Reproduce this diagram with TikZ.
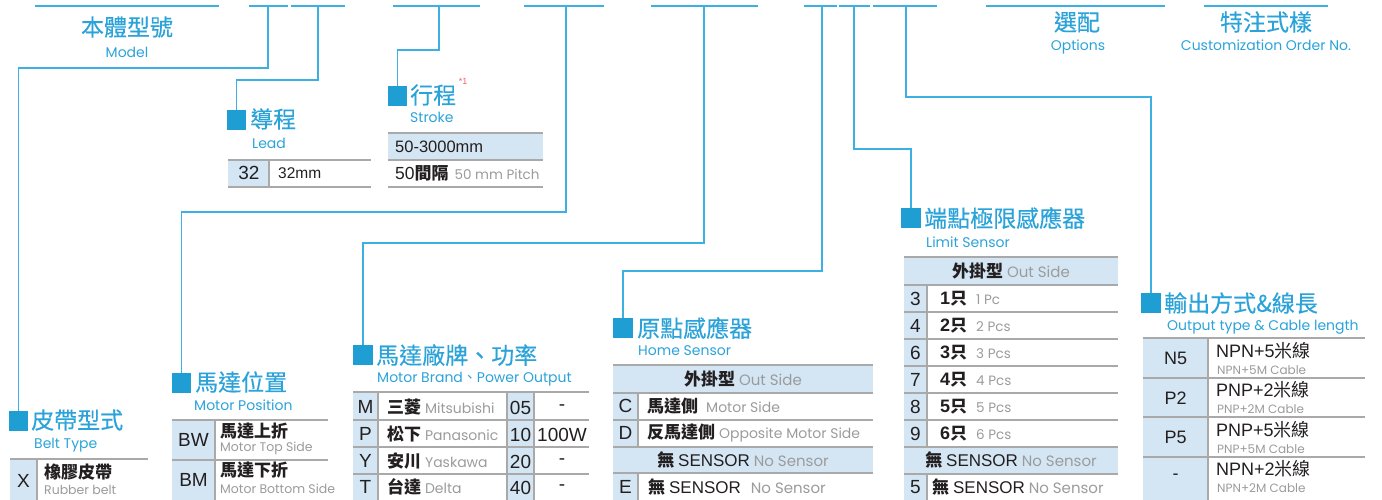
\documentclass[tikz,border=0pt]{standalone}
\usepackage{fontspec}
\setmainfont{Liberation Sans}
\newfontfamily\cjk{Noto Sans CJK TC}
\newfontfamily\cjkt[FakeBold=0.35]{Noto Sans CJK TC}
\newfontfamily\geo{Poppins}
\newfontfamily\ar{Liberation Sans}
\definecolor{cblue}{HTML}{2BA3D9}
\definecolor{sqblue}{HTML}{1F9ED3}
\definecolor{lnblue}{HTML}{3DB0E3}
\definecolor{cellblue}{HTML}{D4E6F4}
\definecolor{gline}{HTML}{A9A9A9}
\definecolor{txt}{HTML}{231F20}
\definecolor{gtxt}{HTML}{9B9B9B}
\definecolor{redone}{HTML}{F0606A}
\newcommand\mygr[2][13.5]{{\geo\mdseries\color{gtxt}\fontsize{#1}{#1}\selectfont #2}}
\newcommand\arn[2][17]{{\ar\mdseries\fontsize{#1}{#1}\selectfont #2}}
\begin{document}
\begin{tikzpicture}[x=1pt,y=-1pt,
  bar/.style={draw=lnblue, line width=2.2pt},
  conn/.style={draw=lnblue, line width=1.5pt},
  sq/.style={fill=sqblue, minimum size=19.5pt, inner sep=0, anchor=north west},
  ttl/.style={text=cblue, font=\cjkt\fontsize{23}{23}\selectfont, inner sep=0, anchor=west},
  ttlc/.style={text=cblue, font=\cjkt\fontsize{23}{23}\selectfont, inner sep=0},
  sub/.style={text=cblue, font=\geo\fontsize{14}{14}\selectfont, inner sep=0, anchor=west},
  subc/.style={text=cblue, font=\geo\fontsize{14}{14}\selectfont, inner sep=0},
  hl/.style={draw=gline, line width=1.8pt},
  vl/.style={draw=gline, line width=1.2pt},
  key/.style={text=txt, font=\ar\fontsize{19}{19}\selectfont, inner sep=0},
  zh/.style={text=txt, font=\cjk\bfseries\fontsize{17}{17}\selectfont, inner sep=0, anchor=west},
  en/.style={text=gtxt, font=\geo\fontsize{12.5}{13}\selectfont, inner sep=0, anchor=west},
  mix/.style={text=txt, font=\cjk\bfseries\fontsize{17}{17}\selectfont, inner sep=0, anchor=west},
  mixc/.style={text=txt, font=\cjk\bfseries\fontsize{17}{17}\selectfont, inner sep=0}
]
\useasboundingbox (0,0) rectangle (1382,499);
% ---------- top bars ----------
\draw[bar] (35,6) -- (219,6);
\draw[bar] (249,6) -- (288,6);
\draw[bar] (291,6) -- (345,6);
\draw[bar] (393,6) -- (480,6);
\draw[bar] (524,6) -- (604,6);
\draw[bar] (651,6) -- (758,6);
\draw[bar] (804,6) -- (837,6);
\draw[bar] (839,6) -- (870,6);
\draw[bar] (873,6) -- (937,6);
\draw[bar] (986,6) -- (1165,6);
\draw[bar] (1204,6) -- (1328,6);
\coordinate (c1) at (268,6);
\coordinate (c2) at (318,6);
\coordinate (c3) at (439,6);
\coordinate (c4) at (566,6);
\coordinate (c5) at (704,6);
\coordinate (c6) at (822,6);
\coordinate (c7) at (854,6);
\coordinate (c8) at (906,6);
% top titles
\node[ttlc] (tModel) at (127,27) {本體型號};
\node[subc] (tModelE) at (127,52) {Model};
\node[ttlc] (tOpt) at (1077,22) {選配};
\node[subc] (tOptE) at (1078,47) {Options};
\node[ttlc] (tCus) at (1266,22) {特注式樣};
\node[subc] (tCusE) at (1266,45) {Customization Order No.};
% ---------- squares ----------
\node[sq] (sqBelt) at (8.5,411) {};
\node[sq] (sqLead) at (226.5,110) {};
\node[sq] (sqStroke) at (387.5,86) {};
\node[sq] (sqPos) at (171.5,373) {};
\node[sq] (sqBrand) at (353,345) {};
\node[sq] (sqHome) at (613,318) {};
\node[sq] (sqLimit) at (901,208) {};
\node[sq] (sqOut) at (1141,293) {};
% connectors
\draw[conn] (c1) -- ++(0,62) -| (sqBelt.north);
\draw[conn] (c2) -- ++(0,74) -| (sqLead.north);
\draw[conn] (c3) -- ++(0,44) -| (sqStroke.north);
\draw[conn] (c4) -- ++(0,206) -| (sqPos.north);
\draw[conn] (c5) -- ++(0,237) -| (sqBrand.north);
\draw[conn] (c6) -- ++(0,265) -| (sqHome.north);
\draw[conn] (c7) -- ++(0,143) -| (sqLimit.north);
\draw[conn] (c8) -- ++(0,91) -| (sqOut.north);
% section titles
\node[ttl] (hBelt) at (31,420) {皮帶型式};
\node[sub] (hBeltE) at (34,445) {Belt Type};
\node[ttl] (hLead) at (250,119) {導程};
\node[sub] (hLeadE) at (252,143) {Lead};
\node[ttl] (hStroke) at (410,95) {行程};
\node[text=redone, font=\ar\fontsize{9}{9}\selectfont, inner sep=0] (star) at (463,81) {*1};
\node[sub] (hStrokeE) at (410,117) {Stroke};
\node[ttl] (hPos) at (195,382) {馬達位置};
\node[sub] (hPosE) at (194,405) {Motor Position};
\node[ttl] (hBrand) at (376,355) {馬達廠牌、功率};
\node[sub] (hBrandE) at (377,379) {Motor Brand{\cjk 、}Power Output};
\node[ttl] (hHome) at (637,328) {原點感應器};
\node[sub] (hHomeE) at (638,351) {Home Sensor};
\node[ttl] (hLimit) at (924,218) {端點極限感應器};
\node[sub] (hLimitE) at (926,242) {Limit Sensor};
\node[ttl] (hOut) at (1164,303) {輸出方式\&線長};
\node[sub] (hOutE) at (1167,327) {Output type \& Cable length};
% ---------- Belt table ----------
\fill[cellblue] (10,459) rectangle (37,500);
\draw[hl] (10,459) -- (148,459);
\draw[vl] (37,459) -- (37,500);
\node[key] (kX) at (23.5,481) {X};
\node[zh] (vX) at (44,472) {橡膠皮帶};
\node[en] (vXe) at (44,490) {Rubber belt};
% ---------- Motor position table ----------
\fill[cellblue] (172,420) rectangle (215,500);
\draw[hl] (172,420) -- (328,420);
\draw[hl] (172,460) -- (328,460);
\draw[vl] (215,420) -- (215,500);
\node[key] (kBW) at (193.5,440) {BW};
\node[zh] (vBW) at (220,431) {馬達上折};
\node[en] (vBWe) at (220,448) {Motor Top Side};
\node[key] (kBM) at (193.5,480) {BM};
\node[zh] (vBM) at (220,470) {馬達下折};
\node[en] (vBMe) at (220,489) {Motor Bottom Side};
% ---------- Lead table ----------
\fill[cellblue] (228,160) rectangle (269,187);
\draw[hl] (228,160) -- (371,160);
\draw[hl] (228,187) -- (371,187);
\draw[vl] (269,160) -- (269,187);
\node[key] (k32) at (249,173) {32};
\node[text=txt, font=\ar\fontsize{15.5}{16}\selectfont, inner sep=0, anchor=west] (v32) at (278,173) {32mm};
% ---------- Stroke table ----------
\fill[cellblue] (388,133) rectangle (543,160);
\draw[hl] (388,133) -- (543,133);
\draw[hl] (388,160) -- (543,160);
\draw[hl] (388,187) -- (543,187);
\node[text=txt, font=\ar\fontsize{16.5}{17}\selectfont, inner sep=0, anchor=west] (vS1) at (395,147) {50-3000mm};
\node[mix] (vS2) at (395,173) {\arn[17.5]{50}間隔\hspace{6pt}\mygr{50 mm Pitch}};
% ---------- Motor brand table ----------
\fill[cellblue] (353,392) rectangle (378,500);
\fill[cellblue] (507,392) rectangle (534,500);
\foreach \yy in {392,420,447,474} \draw[hl] (353,\yy) -- (589,\yy);
\draw[vl] (378,392) -- (378,500);
\draw[vl] (507,392) -- (507,500);
\draw[vl] (534,392) -- (534,500);
\node[key] (kM) at (365.5,407) {M};
\node[mix] (vM) at (387,407) {三菱 \mygr[14]{Mitsubishi}};
\node[key] (k05) at (520.5,408) {05};
\node[key] (w05) at (562,408) {-};
\node[key] (kP) at (365.5,434) {P};
\node[mix] (vP) at (387,434) {松下 \mygr[14]{Panasonic}};
\node[key] (k10) at (520.5,435) {10};
\node[key] (w10) at (562,435) {100W};
\node[key] (kY) at (365.5,461) {Y};
\node[mix] (vY) at (387,461) {安川 \mygr[14]{Yaskawa}};
\node[key] (k20) at (520.5,462) {20};
\node[key] (w20) at (562,462) {-};
\node[key] (kT) at (365.5,487) {T};
\node[mix] (vT) at (387,487) {台達 \mygr[14]{Delta}};
\node[key] (k40) at (520.5,488) {40};
\node[key] (w40) at (562,488) {-};
% ---------- Home sensor table ----------
\fill[cellblue] (613,365) rectangle (873,393);
\fill[cellblue] (613,393) rectangle (638,447);
\fill[cellblue] (613,447) rectangle (873,473);
\fill[cellblue] (613,473) rectangle (638,500);
\foreach \yy in {365,393,420,447,473} \draw[hl] (613,\yy) -- (873,\yy);
\draw[vl] (638,393) -- (638,447);
\draw[vl] (638,473) -- (638,500);
\node[mixc] (hH1) at (743,379) {外掛型 \mygr[15]{Out Side}};
\node[key] (kC) at (625.5,406) {C};
\node[mix] (vC) at (647,406) {馬達側\hspace{8pt}\mygr[14]{Motor Side}};
\node[key] (kD) at (625.5,433) {D};
\node[mix] (vD) at (647,433) {反馬達側 \mygr[14]{Opposite Motor Side}};
\node[mixc] (hH2) at (743,460) {無 \arn{SENSOR} \mygr[15]{No Sensor}};
\node[key] (kE) at (625.5,487) {E};
\node[mix] (vE) at (648,487) {無 \arn{SENSOR}\hspace{10pt}\mygr[15]{No Sensor}};
% ---------- Limit sensor table ----------
\fill[cellblue] (904,257) rectangle (1118,285);
\fill[cellblue] (904,285) rectangle (927,447);
\fill[cellblue] (904,447) rectangle (1118,474);
\fill[cellblue] (904,474) rectangle (927,500);
\foreach \yy in {257,285,312,339,366,393,420,447,474} \draw[hl] (904,\yy) -- (1118,\yy);
\draw[vl] (927,285) -- (927,447);
\draw[vl] (927,474) -- (927,500);
\node[mixc] (hL1) at (1011,271) {外掛型 \mygr[15]{Out Side}};
\node[key] (k3) at (915.5,298.5) {3};
\node[mix] (v3) at (940,298.5) {\arn[18]{\bfseries 1}只\hspace{9pt}\mygr[13.5]{1 Pc}};
\node[key] (k4) at (915.5,325.5) {4};
\node[mix] (v4) at (940,325.5) {\arn[18]{\bfseries 2}只\hspace{9pt}\mygr[13.5]{2 Pcs}};
\node[key] (k6) at (915.5,352.5) {6};
\node[mix] (v6) at (940,352.5) {\arn[18]{\bfseries 3}只\hspace{9pt}\mygr[13.5]{3 Pcs}};
\node[key] (k7) at (915.5,379.5) {7};
\node[mix] (v7) at (940,379.5) {\arn[18]{\bfseries 4}只\hspace{9pt}\mygr[13.5]{4 Pcs}};
\node[key] (k8) at (915.5,406.5) {8};
\node[mix] (v8) at (940,406.5) {\arn[18]{\bfseries 5}只\hspace{9pt}\mygr[13.5]{5 Pcs}};
\node[key] (k9) at (915.5,433.5) {9};
\node[mix] (v9) at (940,433.5) {\arn[18]{\bfseries 6}只\hspace{9pt}\mygr[13.5]{6 Pcs}};
\node[mixc] (hL2) at (1011,460) {無 \arn{SENSOR} \mygr[15]{No Sensor}};
\node[key] (k5) at (915.5,487) {5};
\node[mix] (v5) at (932,487) {無 \arn{SENSOR} \mygr[15]{No Sensor}};
% ---------- Output table ----------
\fill[cellblue] (1143,338) rectangle (1208,500);
\foreach \yy in {338,378,417,457} \draw[hl] (1143,\yy) -- (1365,\yy);
\draw[vl] (1208,338) -- (1208,500);
\node[key, font=\ar\fontsize{18}{18}\selectfont] (kN5) at (1175.5,358) {N5};
\node[text=txt, font=\cjk\fontsize{18}{18}\selectfont, inner sep=0, anchor=west] (vN5) at (1216,351) {\arn[18]{NPN+5}米線};
\node[en, font=\geo\fontsize{12}{12}\selectfont] (vN5e) at (1217,370) {NPN+5M Cable};
\node[key, font=\ar\fontsize{18}{18}\selectfont] (kP2) at (1175.5,398) {P2};
\node[text=txt, font=\cjk\fontsize{18}{18}\selectfont, inner sep=0, anchor=west] (vP2) at (1216,390) {\arn[18]{PNP+2}米線};
\node[en, font=\geo\fontsize{12}{12}\selectfont] (vP2e) at (1217,409) {PNP+2M Cable};
\node[key, font=\ar\fontsize{18}{18}\selectfont] (kP5) at (1175.5,437) {P5};
\node[text=txt, font=\cjk\fontsize{18}{18}\selectfont, inner sep=0, anchor=west] (vP5) at (1216,430) {\arn[18]{PNP+5}米線};
\node[en, font=\geo\fontsize{12}{12}\selectfont] (vP5e) at (1217,449) {PNP+5M Cable};
\node[key, font=\ar\fontsize{18}{18}\selectfont] (kDash) at (1175.5,477) {-};
\node[text=txt, font=\cjk\fontsize{18}{18}\selectfont, inner sep=0, anchor=west] (vN2) at (1216,469) {\arn[18]{NPN+2}米線};
\node[en, font=\geo\fontsize{12}{12}\selectfont] (vN2e) at (1217,488) {NPN+2M Cable};
\end{tikzpicture}
\end{document}
